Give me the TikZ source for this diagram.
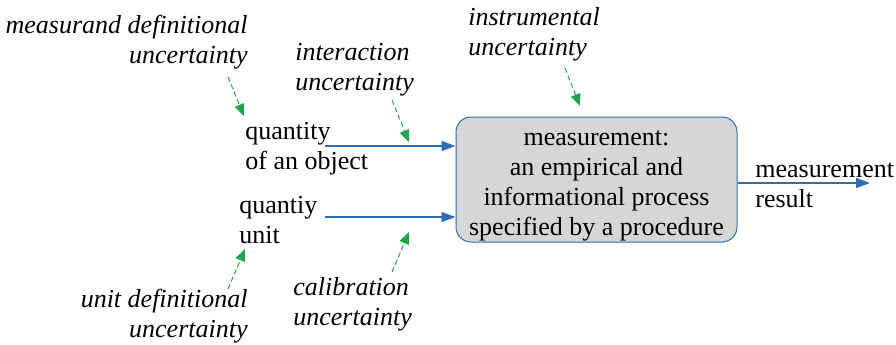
\documentclass[tikz,border=0pt]{standalone}
\usepackage{fontspec}
\setmainfont{Liberation Serif}
\usetikzlibrary{arrows.meta}
\definecolor{flowblue}{HTML}{2E6DB4}
\definecolor{uncgreen}{HTML}{1FA64A}
\definecolor{boxgray}{HTML}{D5D6D8}
\tikzset{
  lbl/.style={inner sep=0pt,font=\fontsize{13}{15}\selectfont},
  unc/.style={inner sep=0pt,font=\fontsize{13}{15}\selectfont\itshape},
  flow/.style={-{Triangle[length=7pt,width=5pt]},flowblue,line width=0.7pt},
  infl/.style={-{Triangle[length=6pt,width=5pt]},uncgreen,dash pattern=on 2.5pt off 1.5pt,line width=0.5pt},
  procbox/.style={draw=flowblue,fill=boxgray,rounded corners=7.5pt,line width=0.5pt,
    minimum width=140.5pt,minimum height=62.5pt,align=center},
}
\begin{document}
\begin{tikzpicture}[x=0.5pt,y=-0.5pt]
  \useasboundingbox (0,0) rectangle (896,344);
  \node[procbox,lbl] (meas) at (596.5,179.5)
    {\rule{0pt}{14pt}measurement:\\an empirical and\\informational process\\specified by a procedure};
  \draw
    (245,149) node[lbl,anchor=west,align=left] (obj){quantity\\of an object}
    (239,220) node[lbl,anchor=west,align=left] (unit){quantiy\\unit}
    (755,185) node[lbl,anchor=west,align=left] (res){measurement\\result}
    (248,42) node[unc,anchor=east,align=right] (mdu){measurand definitional\\uncertainty}
    (295,70) node[unc,anchor=west,align=left] (iau){interaction\\uncertainty}
    (468,34) node[unc,anchor=west,align=left] (inu){instrumental\\uncertainty}
    (248,316) node[unc,anchor=east,align=right] (udu){unit definitional\\uncertainty}
    (293,304) node[unc,anchor=west,align=left] (cau){calibration\\uncertainty};
  \coordinate (objout) at (325,146);
  \coordinate (unitout) at (325,217);
  \coordinate (resend) at (870,183);
  \coordinate (mdutail) at (228,77);
  \coordinate (mduhead) at (244,116);
  \coordinate (iautail) at (392,100);
  \coordinate (iauhead) at (409,142);
  \coordinate (inutail) at (565,68);
  \coordinate (inuhead) at (580,106);
  \coordinate (udutail) at (228,289);
  \coordinate (uduhead) at (245,249);
  \coordinate (cautail) at (392,272);
  \coordinate (cauhead) at (409,232);
  \begin{scope}[flow]
    \draw (objout) to (meas.west |- objout);
    \draw (unitout) to (meas.west |- unitout);
    \draw (meas.east |- resend) to (resend);
  \end{scope}
  \begin{scope}[infl]
    \draw (mdutail) to (mduhead);
    \draw (iautail) to (iauhead);
    \draw (inutail) to (inuhead);
    \draw (udutail) to (uduhead);
    \draw (cautail) to (cauhead);
  \end{scope}
\end{tikzpicture}
\end{document}
